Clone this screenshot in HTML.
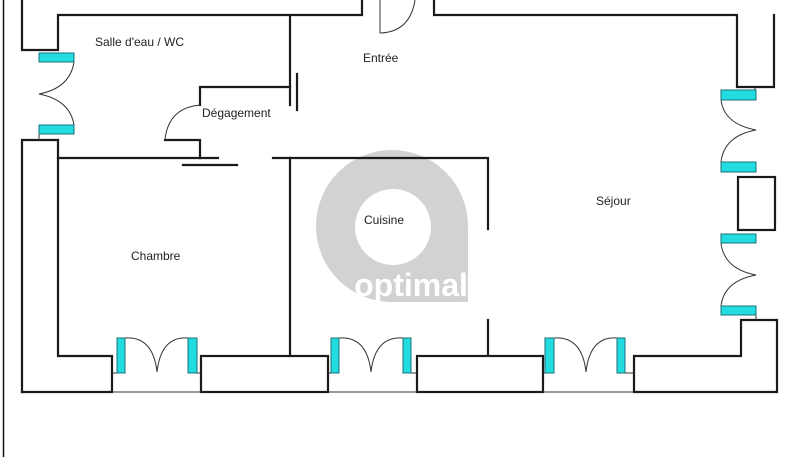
<!DOCTYPE html>
<html><head><meta charset="utf-8"><style>
html,body{margin:0;padding:0;background:#fff}
svg{display:block}
text{font-family:"Liberation Sans",sans-serif;font-size:12px;fill:#222}
</style></head><body>
<svg width="788" height="457" viewBox="0 0 788 457" xmlns="http://www.w3.org/2000/svg">
<rect width="788" height="457" fill="#fff"/>
<!-- logo -->
<path d="M392,150 A76,76 0 0 0 392,302 L468,302 L468,226 A76,76 0 0 0 392,150 Z" fill="#d2d2d2"/>
<circle cx="393" cy="227" r="38" fill="#fff"/>
<text x="411" y="296" text-anchor="middle" style="font-size:32px;font-weight:bold;fill:#fff;letter-spacing:0px">optimal</text>
<!-- page border -->
<line x1="3.5" y1="0" x2="3.5" y2="457" stroke="#111" stroke-width="1.5"/>
<g fill="none" stroke="#1a1a1a" stroke-width="2.2" stroke-linecap="square">
<polyline points="22,0 22,50 58,50 58,15 362,15 362,0"/>
<polyline points="434,0 434,15 737,15 737,87 774,87 774,15"/>
<polyline points="22,392 22,140 58,140"/>
<polyline points="58,140 58,356 112,356 112,392 22,392"/>
<rect x="201" y="356" width="127" height="36"/>
<rect x="417" y="356" width="126" height="36"/>
<polyline points="634,392 634,356 741,356 741,320 777,320 777,392 634,392"/>
<rect x="738" y="177" width="37" height="53"/>
<line x1="290" y1="15" x2="290" y2="105"/>
<line x1="297" y1="74" x2="297" y2="110"/>
<polyline points="290,87 200,87 200,105"/>
<polyline points="165,140 200,140 200,158"/>
<line x1="58" y1="158" x2="218" y2="158"/>
<line x1="183" y1="165" x2="237" y2="165"/>
<polyline points="273,158 488,158 488,229"/>
<line x1="290" y1="158" x2="290" y2="355"/>
<line x1="488" y1="320" x2="488" y2="355"/>
</g>
<g fill="none" stroke="#333" stroke-width="1">
<line x1="112" y1="392" x2="201" y2="392"/>
<line x1="328" y1="392" x2="417" y2="392"/>
<line x1="543" y1="392" x2="634" y2="392"/>
<line x1="380" y1="0" x2="380" y2="33"/>
<path d="M380,33 Q410,32 415,0"/>
<path d="M200,105 Q168,108 165,140"/>
<path d="M74,62 Q70,88 39,94 Q70,100 74,125"/>
<line x1="39" y1="134" x2="39" y2="140"/>
<path d="M721,100 Q724,124 756,130 Q724,136 721,162"/>
<path d="M721,243 Q724,269 756,275 Q724,281 721,306"/>
<line x1="755" y1="87" x2="755" y2="90"/>
<line x1="756" y1="315" x2="756" y2="320"/>
<path d="M125,338 Q153,336 157,372 Q161,336 188,338"/>
<path d="M339,338 Q367,336 371,372 Q375,336 403,338"/>
<path d="M554,338 Q582,336 586,372 Q590,336 617,338"/>
<line x1="112" y1="373" x2="117" y2="373"/>
<line x1="197" y1="373" x2="201" y2="373"/>
<line x1="328" y1="373" x2="331" y2="373"/>
<line x1="411" y1="373" x2="417" y2="373"/>
<line x1="543" y1="373" x2="545" y2="373"/>
<line x1="625" y1="373" x2="634" y2="373"/>
</g>
<g fill="#22dde0" stroke="#1a6f78" stroke-width="1">
<rect x="39" y="53" width="35" height="9"/>
<rect x="39" y="125" width="35" height="9"/>
<rect x="721" y="90" width="35" height="10"/>
<rect x="721" y="162" width="35" height="10"/>
<rect x="721" y="234" width="35" height="9"/>
<rect x="721" y="306" width="35" height="9"/>
<rect x="117" y="338" width="8" height="35"/>
<rect x="188" y="338" width="9" height="35"/>
<rect x="331" y="338" width="8" height="35"/>
<rect x="403" y="338" width="8" height="35"/>
<rect x="545" y="338" width="9" height="35"/>
<rect x="617" y="338" width="8" height="35"/>
</g>
<text x="95" y="46">Salle d'eau / WC</text>
<text x="202" y="117">Dégagement</text>
<text x="363" y="62">Entrée</text>
<text x="596" y="205">Séjour</text>
<text x="364" y="224">Cuisine</text>
<text x="131" y="260">Chambre</text>
</svg>
</body></html>
